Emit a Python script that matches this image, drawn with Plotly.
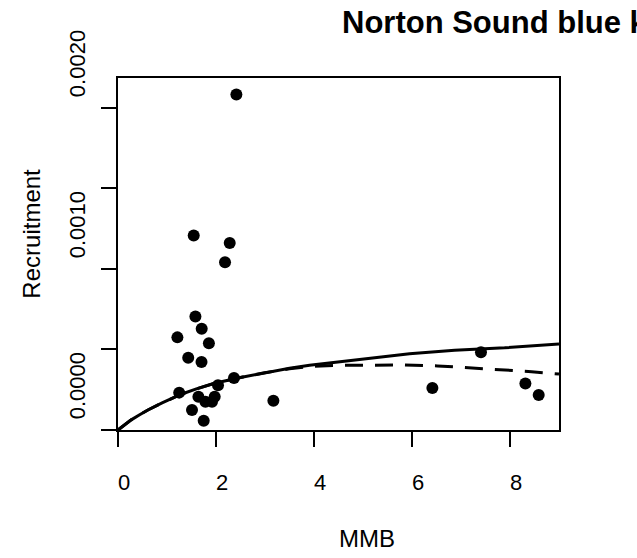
import plotly.graph_objects as go

# observed stock / recruitment pairs
mmb = [2.416, 1.545, 2.280, 2.184, 1.212, 1.855, 1.433, 1.704, 1.580, 1.708,
       2.367, 2.041, 1.249, 1.641, 1.973, 1.784, 1.918, 1.510, 3.171, 1.749,
       7.408, 6.416, 8.314, 8.586]
recruit = [0.002083, 0.001207, 0.001161, 0.001042, 0.000575, 0.000539, 0.000449,
           0.000422, 0.000704, 0.000629, 0.000323, 0.000278, 0.000232, 0.000207,
           0.000207, 0.000176, 0.000176, 0.000124, 0.000182, 0.000057,
           0.000483, 0.000261, 0.000288, 0.000217]

# fitted curves
bh_x = [0, 0.1, 0.27, 0.45, 0.61, 0.9, 1.29, 1.6, 1.97, 2.5, 2.99, 3.5, 3.91,
        4.93, 5.95, 6.87, 7.89, 9.0]
bh_y = [0, 0.000024, 0.000063, 0.000096, 0.000124, 0.000168, 0.000222,
        0.000255, 0.000290, 0.000326, 0.000356, 0.000383, 0.000402,
        0.000440, 0.000474, 0.000495, 0.000510, 0.000534]
rk_x = [0, 0.1, 0.27, 0.45, 0.61, 0.9, 1.29, 1.6, 1.97, 2.5, 2.99, 3.5, 3.91,
        4.46, 5.2, 5.85, 6.52, 7.22, 7.89, 8.44, 9.0]
rk_y = [0, 0.000024, 0.000063, 0.000096, 0.000124, 0.000168, 0.000222,
        0.000255, 0.000290, 0.000326, 0.000355, 0.000380, 0.000395,
        0.000401, 0.000404, 0.000404, 0.000398, 0.000386, 0.000373,
        0.000362, 0.000347]

x_ticks = [0, 2, 4, 6, 8]
y_ticks = [0, 0.0005, 0.0010, 0.0015, 0.0020]
y_labels = ["0.0000", "", "0.0010", "", "0.0020"]

FONT = "Liberation Sans, Arial, sans-serif"

fig = go.Figure()
fig.add_trace(go.Scatter(x=mmb, y=recruit, mode="markers",
                         marker=dict(symbol="circle", size=12, color="black"),
                         showlegend=False))
fig.add_trace(go.Scatter(x=bh_x, y=bh_y, mode="lines",
                         line=dict(color="black", width=3), showlegend=False))
fig.add_trace(go.Scatter(x=rk_x, y=rk_y, mode="lines",
                         line=dict(color="black", width=3, dash="18px,12px"),
                         showlegend=False))

axis_common = dict(showline=True, linecolor="black", linewidth=1.5, mirror=True,
                   ticks="outside", ticklen=15, tickwidth=1.5, tickcolor="black",
                   showgrid=False, zeroline=False, automargin=False,
                   tickfont=dict(family=FONT, size=22, color="black"))

fig.update_layout(
    width=637, height=558, autosize=False,
    margin=dict(l=118, r=78, t=78, b=128),
    paper_bgcolor="white", plot_bgcolor="white",
    xaxis=dict(range=[0, 9], tickvals=x_ticks, ticklabelstandoff=17,
               ticklabelshift=6, **axis_common),
    yaxis=dict(range=[0, 0.002185], tickvals=y_ticks, ticktext=y_labels,
               tickangle=-90, ticklabelstandoff=7, ticklabelshift=-41,
               **axis_common),
)

fig.add_annotation(text="<b>Norton Sound blue king crab</b>", xref="paper", yref="paper",
                   x=0.5027, y=1.157, xanchor="left", yanchor="middle", showarrow=False,
                   font=dict(family=FONT, size=31, color="black"))
fig.add_annotation(text="MMB", xref="paper", yref="paper", x=0.564, y=-0.307,
                   xanchor="center", yanchor="middle", showarrow=False,
                   font=dict(family=FONT, size=24, color="black"))
fig.add_annotation(text="Recruitment", xref="paper", yref="paper", x=-0.1957, y=0.557,
                   xanchor="center", yanchor="middle", textangle=-90, showarrow=False,
                   font=dict(family=FONT, size=24, color="black"))

# drop the default 8px body margin so the figure sits at the window's corner
fig.write_html("out.html", config={"displayModeBar": False},
               post_script="document.body.style.margin='0';document.body.style.overflow='hidden';")
